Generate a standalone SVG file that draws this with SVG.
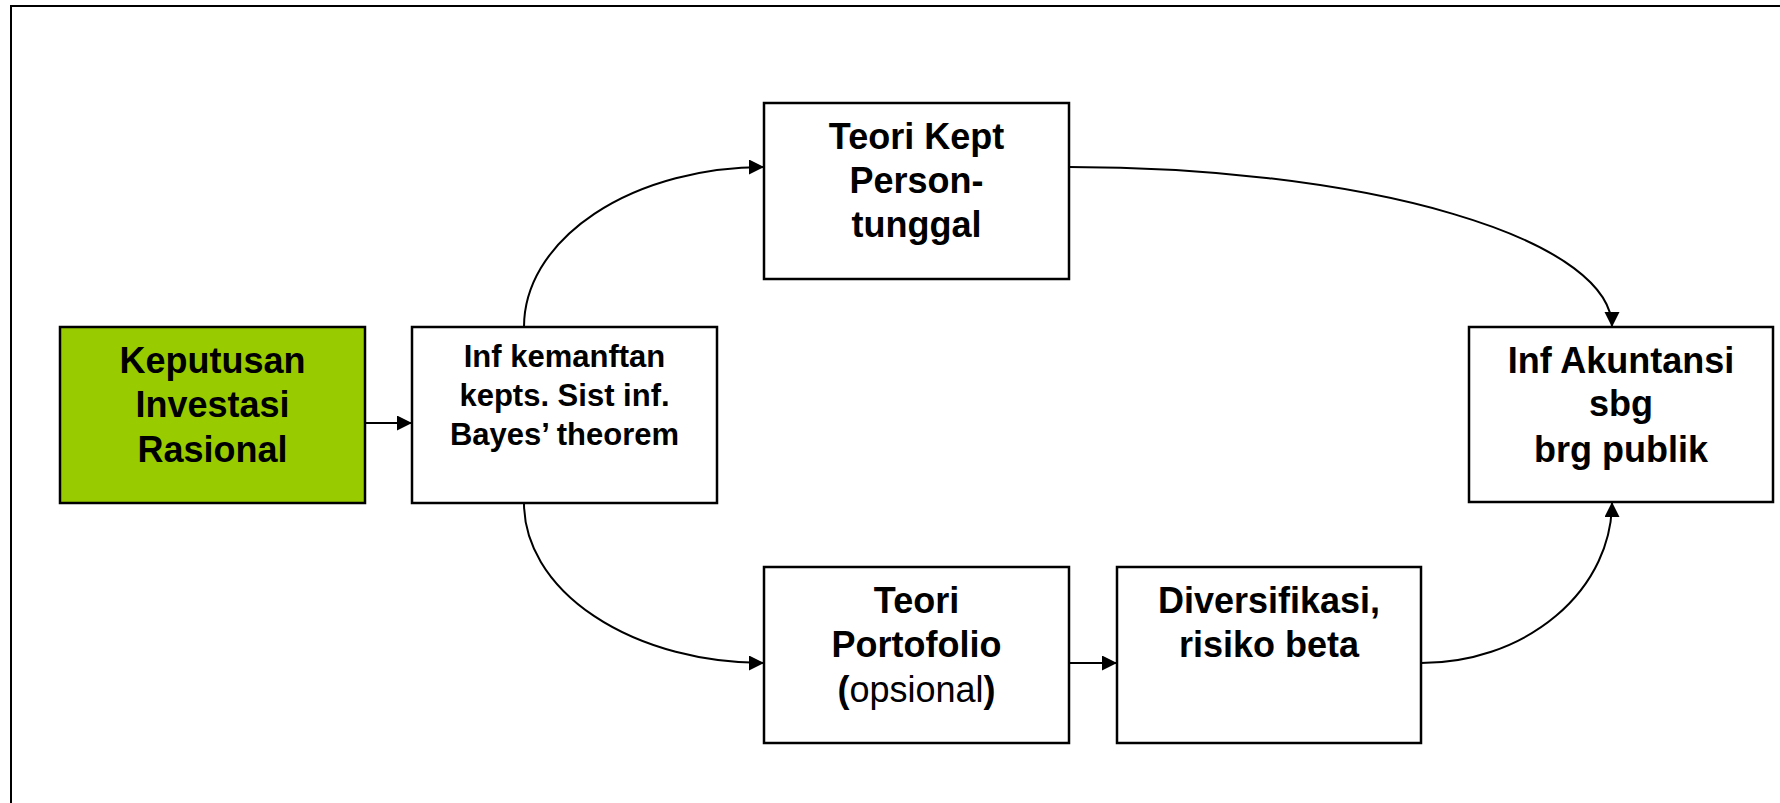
<svg xmlns="http://www.w3.org/2000/svg" width="1780" height="803" viewBox="0 0 1780 803">
  <style>
    .box { fill: #ffffff; stroke: #000000; stroke-width: 2.5; }
    .green { fill: #99cc00; }
    .lbl { font-family: "Liberation Sans", Arial, sans-serif; font-weight: bold; fill: #000000; text-anchor: middle; }
    .big { font-size: 36px; }
    .small { font-size: 31px; }
    .reg { font-weight: normal; }
    .conn { fill: none; stroke: #000000; stroke-width: 2; marker-end: url(#arrow); }
  </style>
  <defs>
    <marker id="arrow" markerUnits="userSpaceOnUse" markerWidth="16" markerHeight="16" refX="15" refY="7.5" orient="auto">
      <path d="M0,0 L15,7.5 L0,15 z" fill="#000000"/>
    </marker>
  </defs>

  <rect x="0" y="0" width="1780" height="803" fill="#ffffff"/>
  <!-- outer frame -->
  <rect x="11" y="6" width="1800" height="900" fill="none" stroke="#000000" stroke-width="2"/>

  <g id="connectors">
    <path class="conn" d="M365,423 L412,423"/>
    <path class="conn" d="M524,327 A240,160 0 0 1 764,167"/>
    <path class="conn" d="M524,503 A240,160 0 0 0 764,663"/>
    <path class="conn" d="M1069,167 A543,160 0 0 1 1612,327"/>
    <path class="conn" d="M1069,663 L1117,663"/>
    <path class="conn" d="M1421,663 A191,161 0 0 0 1612,502"/>
  </g>

  <g id="keputusan">
    <rect class="box green" x="60" y="327" width="305" height="176"/>
    <text class="lbl big" x="212.5" y="372.5">Keputusan</text>
    <text class="lbl big" x="212.5" y="417">Investasi</text>
    <text class="lbl big" x="212.5" y="461.5">Rasional</text>
  </g>

  <g id="inf-kemanfaatan">
    <rect class="box" x="412" y="327" width="305" height="176"/>
    <text class="lbl small" x="564.5" y="367">Inf kemanftan</text>
    <text class="lbl small" x="564.5" y="406">kepts. Sist inf.</text>
    <text class="lbl small" x="564.5" y="444.5">Bayes’ theorem</text>
  </g>

  <g id="teori-kept">
    <rect class="box" x="764" y="103" width="305" height="176"/>
    <text class="lbl big" x="916.5" y="149">Teori Kept</text>
    <text class="lbl big" x="916.5" y="193">Person-</text>
    <text class="lbl big" x="916.5" y="237">tunggal</text>
  </g>

  <g id="teori-portofolio">
    <rect class="box" x="764" y="567" width="305" height="176"/>
    <text class="lbl big" x="916.5" y="613">Teori</text>
    <text class="lbl big" x="916.5" y="657">Portofolio</text>
    <text class="lbl big" x="916.5" y="701.5">(<tspan class="reg">opsional</tspan>)</text>
  </g>

  <g id="diversifikasi">
    <rect class="box" x="1117" y="567" width="304" height="176"/>
    <text class="lbl big" x="1269" y="613">Diversifikasi,</text>
    <text class="lbl big" x="1269" y="657">risiko beta</text>
  </g>

  <g id="inf-akuntansi">
    <rect class="box" x="1469" y="327" width="304" height="175"/>
    <text class="lbl big" x="1621" y="372.5">Inf Akuntansi</text>
    <text class="lbl big" x="1621" y="416">sbg</text>
    <text class="lbl big" x="1621" y="461.5">brg publik</text>
  </g>
</svg>
